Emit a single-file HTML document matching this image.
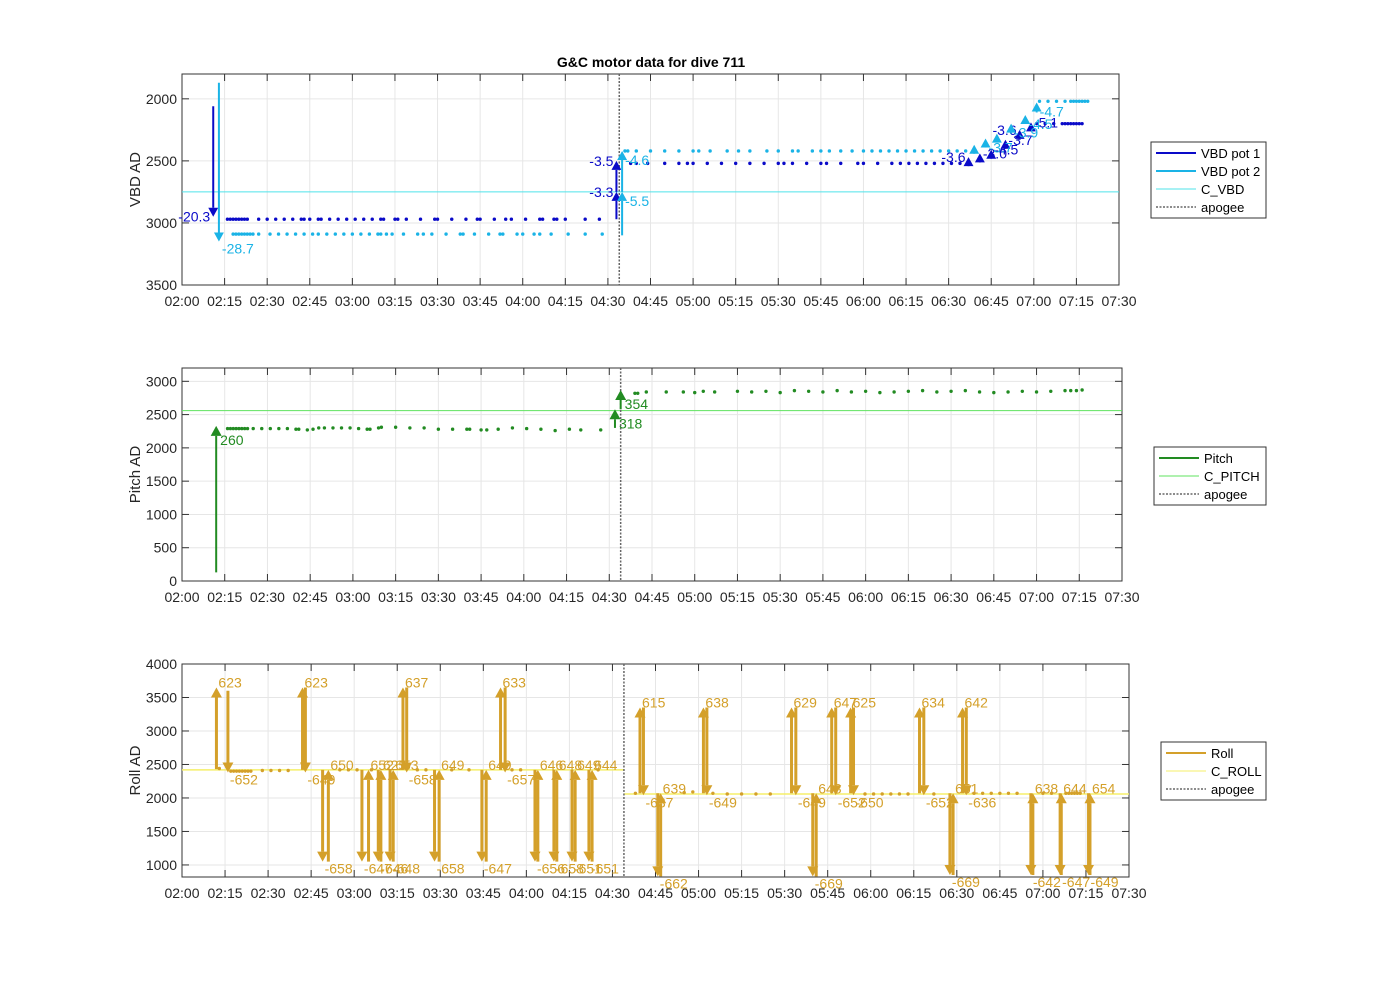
<!DOCTYPE html>
<html><head><meta charset="utf-8"><style>
body{margin:0;background:#fff;}
svg{display:block;font-family:"Liberation Sans",sans-serif;}
</style></head><body>
<svg id="fig" width="1400" height="986" viewBox="0 0 1400 986" xmlns="http://www.w3.org/2000/svg">
<rect width="1400" height="986" fill="#fff"/>
<text x="651" y="67" font-size="14" font-weight="bold" text-anchor="middle">G&amp;C motor data for dive 711</text>
</svg>
<script>
// time in minutes after 02:00
const xTickLabels = ["02:00","02:15","02:30","02:45","03:00","03:15","03:30","03:45","04:00","04:15","04:30","04:45","05:00","05:15","05:30","05:45","06:00","06:15","06:30","06:45","07:00","07:15","07:30"];
const apogeeTime = 154;
// VBD
const vbdTicks = [2000,2500,3000,3500];
const cVbd = 2750;
const pot1BeforeT = [16,17,18,19,20,21,22,23,27,30,33,36,39,42,43,45,48,49,52,55,58,61,64,67,70,71,75,76,79,84,89,90,95,100,104,105,110,114,116,121,126,127,131,132,135,142,147];
const pot1BeforeV = 2970;
const pot2BeforeT = [18,19,20,21,22,23,24,25,27,31,34,37,40,43,46,48,51,54,57,60,63,66,69,70,72,74,78,83,85,88,93,98,99,103,108,112,113,118,120,124,126,130,136,142,148];
const pot2BeforeV = 3090;
const pot1AfterT = [158,160,164,170,175,178,180,185,190,195,200,205,210,212,215,220,225,227,232,238,240,245,250,253,256,259,262,265,268,271,274];
const pot1AfterV = 2520;
const pot2AfterT = [156,157,160,165,170,175,180,182,186,192,196,200,206,210,215,217,222,225,228,232,236,240,243,246,249,252,255,258,261,264,267,270,273,276];
const pot2AfterV = 2420;
const pot1EndT = [301,304,307,310,311,312,313,314,315,316,317];
const pot1EndV = 2200;
const pot2EndT = [302,305,308,311,313,314,315,316,317,318,319];
const pot2EndV = 2020;
// arrows: [time, from, to, label]
const pot1Arrows = [[11,2060,2950,"-20.3"],[153,2970,2750,"-3.3"],[153,2750,2500,"-3.5"],[277,2530,2470,"-3.6"],[281,2490,2440,"-3.0"],[285,2450,2410,"-4.5"],[290,2400,2330,"-3.7"],[295,2330,2250,"-3.6"],[299,2260,2190,"-5.1"]];
const pot2Arrows = [[13,1870,3150,"-28.7"],[155,3100,2750,"-5.5"],[155,2750,2420,"-4.6"],[279,2430,2370,""],[283,2380,2320,"-3.7"],[287,2330,2280,""],[292,2280,2200,"-3.9"],[297,2200,2130,"-4.5"],[301,2110,2030,"-4.7"]];
// Pitch
const pitchTicks = [0,500,1000,1500,2000,2500,3000];
const cPitch = 2560;
const pitchBeforeT = [16,17,18,19,20,21,22,23,25,28,31,34,37,40,41,44,46,48,50,53,56,59,62,65,66,69,70,75,80,85,90,95,100,101,105,107,111,116,121,126,131,136,140,147];
const pitchBeforeV = [2290,2290,2290,2290,2290,2290,2290,2290,2290,2290,2290,2290,2290,2280,2280,2270,2280,2300,2300,2300,2300,2300,2290,2280,2280,2300,2310,2310,2300,2300,2280,2280,2280,2280,2270,2270,2280,2300,2290,2280,2260,2280,2270,2270];
const pitchAfterT = [159,160,163,170,176,180,183,187,195,200,205,210,215,220,225,230,235,240,245,250,255,260,265,270,275,280,285,290,295,300,305,310,312,314,316];
const pitchAfterV = [2820,2820,2840,2840,2840,2830,2850,2840,2850,2840,2850,2830,2860,2850,2840,2860,2840,2850,2830,2840,2850,2860,2840,2850,2860,2840,2830,2840,2850,2840,2850,2860,2860,2860,2870];
const pitchArrows = [[12,130,2330,"260"],[152,2300,2580,"318"],[154,2580,2870,"354"]];
// Roll
const rollTicks = [1000,1500,2000,2500,3000,3500,4000];
const cRollBefore = 2420, cRollAfter = 2060;
const rollArrows = [
[12,2430,3650,"623"],[16,3600,2380,"-652"],[42,2420,3650,"623"],[43,3650,2380,"-649"],
[49,2420,1050,"-658"],[51,1050,2420,"650"],[62.7,2420,1050,"-647"],[65,1050,2420,"652"],
[68.4,2420,1050,"-646"],[69.3,1050,2420,"625"],[72.5,2420,1050,"-648"],[73.6,1050,2420,"653"],
[77,2420,3650,"637"],[78.3,3650,2380,"-658"],[88,2420,1050,"-658"],[89.6,1050,2420,"649"],
[104.5,2420,1050,"-647"],[106,1050,2420,"649"],[111,2420,3650,"633"],[112.6,3650,2380,"-657"],
[123,2420,1050,"-656"],[124,1050,2420,"646"],[129.6,2420,1050,"-658"],[130.6,1050,2420,"648"],
[135.9,2420,1050,"-651"],[137,1050,2420,"649"],[141.8,2420,1050,"-651"],[142.9,1050,2420,"644"],
[159.6,2070,3350,"615"],[160.8,3350,2040,"-637"],[165.8,2070,830,"-662"],[166.8,830,2070,"639"],
[181.7,2070,3350,"638"],[182.9,3350,2040,"-649"],[212.4,2070,3350,"629"],[213.9,3350,2040,"-649"],
[219.8,2070,830,"-669"],[221,830,2070,"648"],[226.4,2070,3350,"647"],[227.8,3350,2040,"-652"],
[233,2070,3350,"625"],[234,3350,2040,"-650"],[257,2070,3350,"634"],[258.5,3350,2040,"-652"],
[267.6,2070,850,"-669"],[268.7,850,2070,"651"],[272,2070,3350,"642"],[273.3,3350,2040,"-636"],
[295.8,2070,850,"-642"],[296.5,850,2070,"638"],[306,2070,850,"-647"],[306.4,850,2070,"644"],
[315.9,2070,850,"-649"],[316.4,850,2070,"654"]];
const rollDotsT = [13,17,18,19,20,21,22,23,24,28,31,34,37,55,58,61,66,82,85,94,100,115,118,145,158,175,178,185,190,195,200,205,238,241,244,247,250,253,262,276,279,282,285,288,291,300,303,308,309,310,311,312,313];
const rollDotsV = [2440,2400,2400,2400,2400,2400,2400,2400,2400,2410,2410,2410,2410,2420,2420,2420,2420,2420,2420,2420,2420,2420,2420,2420,2070,2080,2090,2070,2060,2060,2060,2060,2060,2060,2060,2060,2060,2060,2060,2070,2070,2070,2070,2070,2070,2070,2070,2070,2070,2070,2070,2070,2070];

const NS="http://www.w3.org/2000/svg";
const svg=document.getElementById('fig');
function el(tag,attrs,parent){const e=document.createElementNS(NS,tag);for(const k in attrs)e.setAttribute(k,attrs[k]);(parent||svg).appendChild(e);return e;}

function makePanel(p){
  const g=el('g',{});
  
  
  const xs=t=>p.x0+(t/330)*(p.x1-p.x0);
  const ys=v=>p.rev? p.y0+(v-p.ymin)/(p.ymax-p.ymin)*(p.y1-p.y0) : p.y1-(v-p.ymin)/(p.ymax-p.ymin)*(p.y1-p.y0);
  el('rect',{x:p.x0,y:p.y0,width:p.x1-p.x0,height:p.y1-p.y0,fill:'#fff'},g);
  const grid=el('g',{},g);
  
  
  xTickLabels.forEach((lab,i)=>{const x=xs(i*15);
    el('line',{x1:x,x2:x,y1:p.y0,y2:p.y1,stroke:'#e6e6e6','stroke-width':1},grid);
    el('line',{x1:x,x2:x,y1:p.y1,y2:p.y1-7,stroke:'#333'},g);
    el('line',{x1:x,x2:x,y1:p.y0,y2:p.y0+7,stroke:'#333'},g);
    const t=el('text',{x:x,y:p.y1+21,'font-size':14,'text-anchor':'middle',fill:'#262626'},g);t.textContent=lab;
    
    
  });
  p.ticks.forEach(v=>{const y=ys(v);
    el('line',{x1:p.x0,x2:p.x1,y1:y,y2:y,stroke:'#e6e6e6'},grid);
    el('line',{x1:p.x0,x2:p.x0+7,y1:y,y2:y,stroke:'#333'},g);
    el('line',{x1:p.x1,x2:p.x1-7,y1:y,y2:y,stroke:'#333'},g);
    const t=el('text',{x:p.x0-5,y:y+5,'font-size':14,'text-anchor':'end',fill:'#262626'},g);t.textContent=v;
    
    
  });
  el('rect',{x:p.x0,y:p.y0,width:p.x1-p.x0,height:p.y1-p.y0,fill:'none',stroke:'#333'},g);
  const yl=el('text',{x:0,y:0,'font-size':15,'text-anchor':'middle',fill:'#262626',transform:`translate(${p.x0-42},${(p.y0+p.y1)/2}) rotate(-90)`},g);
  yl.textContent=p.ylabel;
  
  
  return {g,xs,ys};
}
function dots(P,ts,vs,color,name){
  const g=el('g',{},P.g);
  
  
  ts.forEach((t,i)=>{const v=Array.isArray(vs)?vs[i]:vs;el('circle',{cx:P.xs(t),cy:P.ys(v),r:1.7,fill:color},g);});
}
function arrows(P,arr,color,name,w,head,lblDx,opts){
  opts=opts||{};
  const g=el('g',{},P.g);
  
  
  arr.forEach(a=>{
    const x=P.xs(a[0]),ya=P.ys(a[1]),yb=P.ys(a[2]);
    const dir=yb<ya?-1:1;
    el('line',{x1:x,x2:x,y1:ya,y2:yb-dir*head,stroke:color,'stroke-width':w},g);
    el('polygon',{points:`${x-head*0.55},${yb-dir*head} ${x+head*0.55},${yb-dir*head} ${x},${yb}`,fill:color},g);
    if(a[3]){
      let tx=x+lblDx, ty=yb+(dir<0?(opts.upDy!==undefined?opts.upDy:5):12), anchor='start';
      if(opts.left&&opts.left.includes(a[3])){tx=x-3;anchor='end';ty=yb+5;}
      const t=el('text',{x:tx,y:ty,'font-size':14,fill:color,'text-anchor':anchor},g);t.textContent=a[3];
      
      
    }
  });
}
function hline(P,v,t0,t1,color,name,w){
  const l=el('line',{x1:P.xs(t0),x2:P.xs(t1),y1:P.ys(v),y2:P.ys(v),stroke:color,'stroke-width':w||1},P.g);
  
  
}
function apogee(P,p){
  const l=el('line',{x1:P.xs(apogeeTime),x2:P.xs(apogeeTime),y1:p.y0,y2:p.y1,stroke:'#666','stroke-width':1.5,'stroke-dasharray':'2,1.5'},P.g);
  
  
}
function legend(x,y,w,items){
  const g=el('g',{});
  
  
  el('rect',{x:x,y:y,width:w,height:items.length*18+4,fill:'#fff',stroke:'#333'},g);
  items.forEach((it,i)=>{const yy=y+11+i*18;
    const e=el('g',{},g);
    
    
    el('line',{x1:x+5,x2:x+45,y1:yy,y2:yy,stroke:it.c,'stroke-width':it.w,'stroke-dasharray':it.d||'none'},e);
    const t=el('text',{x:x+50,y:yy+5,'font-size':13,fill:'#000'},e);t.textContent=it.l;
  });
}

// Panel 1
const p1={name:'vbd-panel',x0:182,x1:1119,y0:74,y1:285,ymin:1800,ymax:3500,rev:true,ticks:vbdTicks,ylabel:'VBD AD'};
const P1=makePanel(p1);
hline(P1,cVbd,0,330,'#4fe3ea','c-vbd-line',1);
apogee(P1,p1);
dots(P1,pot2BeforeT,pot2BeforeV,'#1ab3e6','pot2-dots-descent');
dots(P1,pot1BeforeT,pot1BeforeV,'#0a0ac8','pot1-dots-descent');
dots(P1,pot2AfterT,pot2AfterV,'#1ab3e6','pot2-dots-ascent');
dots(P1,pot1AfterT,pot1AfterV,'#0a0ac8','pot1-dots-ascent');
dots(P1,pot2EndT,pot2EndV,'#1ab3e6','pot2-dots-end');
dots(P1,pot1EndT,pot1EndV,'#0a0ac8','pot1-dots-end');
arrows(P1,pot1Arrows,'#0a0ac8','pot1-arrows',2,9,3,{left:["-20.3","-3.3","-3.5","-3.6"]});
arrows(P1,pot2Arrows,'#1ab3e6','pot2-arrows',2,9,3,{upDy:14});
legend(1151,142,115,[{l:'VBD pot 1',c:'#0a0ac8',w:2},{l:'VBD pot 2',c:'#1ab3e6',w:2},{l:'C_VBD',c:'#4fe3ea',w:1},{l:'apogee',c:'#666',w:1.5,d:'2,1.5'}]);

// Panel 2
const p2={name:'pitch-panel',x0:182,x1:1122,y0:368,y1:581,ymin:0,ymax:3200,rev:false,ticks:pitchTicks,ylabel:'Pitch AD'};
const P2=makePanel(p2);
hline(P2,cPitch,0,330,'#5fe35f','c-pitch-line',1);
apogee(P2,p2);
dots(P2,pitchBeforeT,pitchBeforeV,'#228b22','pitch-dots-descent');
dots(P2,pitchAfterT,pitchAfterV,'#228b22','pitch-dots-ascent');
arrows(P2,pitchArrows,'#228b22','pitch-arrows',2,10,4,{upDy:19});
legend(1154,447,112,[{l:'Pitch',c:'#228b22',w:2},{l:'C_PITCH',c:'#5fe35f',w:1},{l:'apogee',c:'#666',w:1.5,d:'2,1.5'}]);

// Panel 3
const p3={name:'roll-panel',x0:182,x1:1129,y0:664,y1:877,ymin:820,ymax:4000,rev:false,ticks:rollTicks,ylabel:'Roll AD'};
const P3=makePanel(p3);
hline(P3,cRollBefore,0,apogeeTime,'#f5ef6a','c-roll-line-descent',1.5);
hline(P3,cRollAfter,apogeeTime,330,'#f5ef6a','c-roll-line-ascent',1.5);
apogee(P3,p3);
dots(P3,rollDotsT,rollDotsV,'#d4a02a','roll-dots');
arrows(P3,rollArrows,'#d4a02a','roll-arrows',3,10,2,{upDy:0});
legend(1161,742,105,[{l:'Roll',c:'#d4a02a',w:2},{l:'C_ROLL',c:'#f5ef6a',w:1},{l:'apogee',c:'#666',w:1.5,d:'2,1.5'}]);
</script>
</body></html>
